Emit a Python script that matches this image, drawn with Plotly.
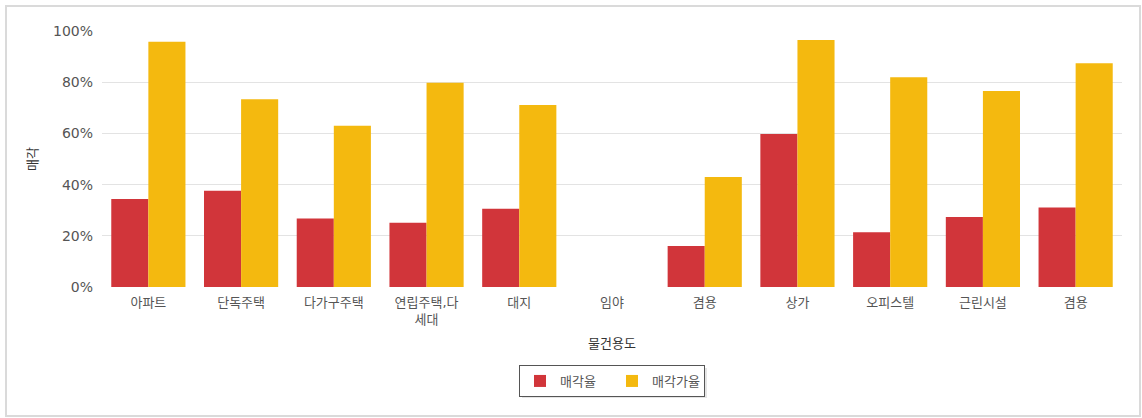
import plotly.graph_objects as go

categories = ["아파트", "단독주택", "다가구주택", "연립주택,다<br>세대", "대지", "임야",
              "겸용", "상가", "오피스텔", "근린시설", "겸용"]
sale_rate = [34.4, 37.6, 26.8, 25.1, 30.6, None, 16.0, 59.8, 21.4, 27.3, 31.1]
sale_price_rate = [95.8, 73.3, 63.0, 79.8, 71.1, None, 43.0, 96.5, 81.9, 76.6, 87.4]
y_ticks = [0, 20, 40, 60, 80, 100]
y_tick_labels = ["0%", "20%", "40%", "60%", "80%", "100%"]

RED = "#D1353A"
YELLOW = "#F4B90F"
FONT = "DejaVu Sans, Noto Sans CJK KR, sans-serif"

x_idx = list(range(len(categories)))

fig = go.Figure()
fig.add_trace(go.Bar(x=x_idx, y=sale_rate, name="매각율", marker=dict(color=RED, line=dict(width=0))))
fig.add_trace(go.Bar(x=x_idx, y=sale_price_rate, name="매각가율", marker=dict(color=YELLOW, line=dict(width=0))))

# plot area in pixels
L, R, T, B = 102, 1122, 31, 287
pw, ph = R - L, B - T
def px_x(x):
    return (x - L) / pw
def px_y(y):
    return (B - y) / ph

# outer frame
fig.add_shape(type="rect", xref="paper", yref="paper",
              x0=px_x(6), x1=px_x(1140), y0=px_y(416), y1=px_y(6),
              line=dict(color="#DADADA", width=2), fillcolor="rgba(0,0,0,0)", layer="below")
# legend shadow
fig.add_shape(type="rect", xref="paper", yref="paper",
              x0=px_x(522), x1=px_x(707), y0=px_y(398), y1=px_y(368),
              line=dict(width=0), fillcolor="rgba(0,0,0,0.10)", layer="below")

fig.update_layout(
    width=1142, height=418,
    margin=dict(l=L, r=1142 - R, t=T, b=418 - B),
    paper_bgcolor="white", plot_bgcolor="white",
    barmode="group", bargap=0.2, bargroupgap=0,
    font=dict(family=FONT, size=13, color="#555555"),
    showlegend=True,
    legend=dict(orientation="h", x=px_x(519), xanchor="left", y=px_y(365), yanchor="top",
                bordercolor="#555555", borderwidth=1, bgcolor="white",
                font=dict(size=13, color="#555555"), itemwidth=30, entrywidth=47),
    xaxis=dict(tickmode="array", tickvals=x_idx, ticktext=categories,
               range=[-0.5, len(categories) - 0.5], showgrid=False, zeroline=False,
               showline=False, ticks="", tickfont=dict(size=13, color="#555555"),
               ticklabelstandoff=6,
               title=dict(text="물건용도", font=dict(size=13, color="#333333"), standoff=12)),
    yaxis=dict(range=[0, 100], tickmode="array", tickvals=y_ticks, ticktext=y_tick_labels,
               showgrid=True, gridcolor="#E3E3E3", gridwidth=1, zeroline=False,
               showline=False, ticks="", tickfont=dict(size=14, color="#555555"),
               ticklabelstandoff=8,
               title=dict(text="매각", font=dict(size=13, color="#333333"), standoff=12)),
)

fig.write_html("out.html", config={"displayModeBar": False},
               post_script="document.body.style.margin='0px';")
